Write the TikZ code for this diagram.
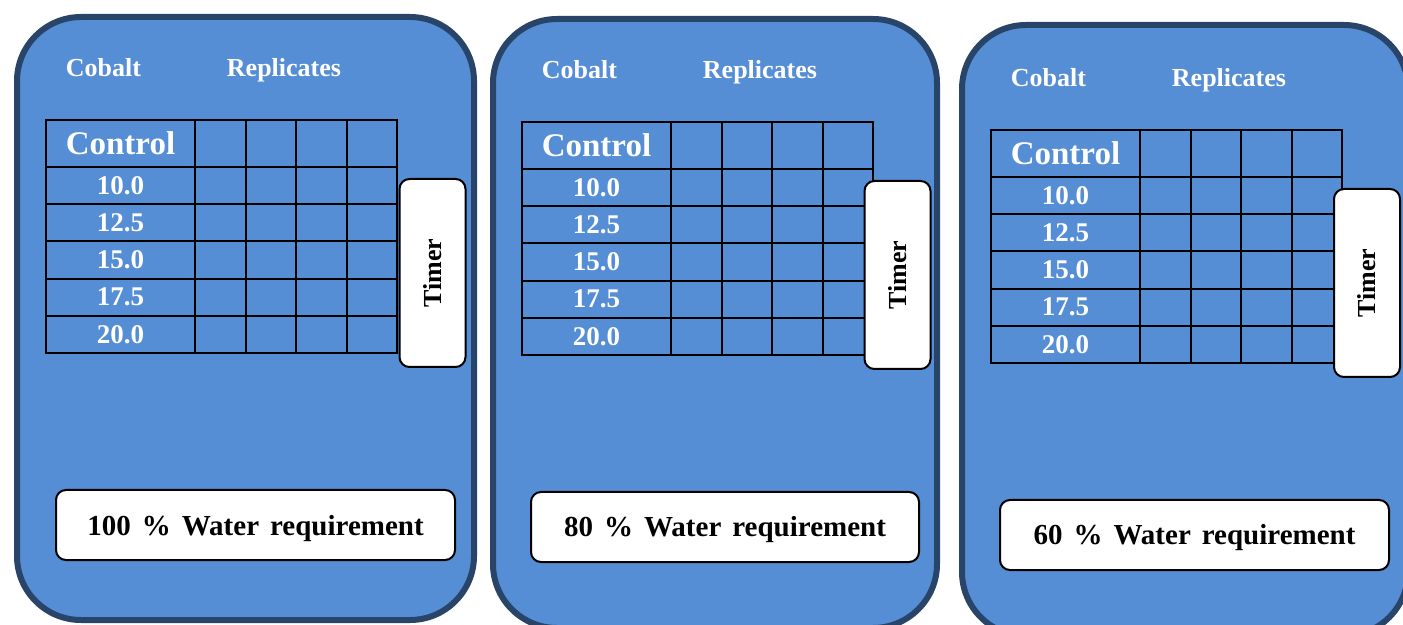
\documentclass[tikz,border=0pt]{standalone}
\usepackage{fontspec}
\setmainfont{Liberation Serif}
\definecolor{panelfill}{RGB}{85,142,213}
\definecolor{panelline}{RGB}{40,68,104}
\newcommand{\wsp}{\hspace{5.5pt}}
\tikzset{
  panel/.style={draw=panelline, fill=panelfill, line width=3pt, rounded corners=32pt},
  grid/.style={draw=black, line width=0.7pt},
  whitebox/.style={draw=black, fill=white, line width=1pt, rounded corners=5pt, inner sep=0pt},
  head/.style={text=white, anchor=base, font=\bfseries\fontsize{13}{15}\selectfont},
  ctrl/.style={text=white, font=\bfseries\fontsize{16.5}{19}\selectfont},
  rowlab/.style={text=white, font=\bfseries\fontsize{13.5}{16}\selectfont},
  timerbox/.style={whitebox, rotate=90, minimum width=94pt, minimum height=33pt,
    font=\bfseries\fontsize{13}{15}\selectfont},
  waterbox/.style={whitebox, minimum height=35pt, text height=10pt, text depth=0pt,
    font=\bfseries\fontsize{14.5}{17}\selectfont}
}
\begin{document}
\begin{tikzpicture}[x=0.5pt,y=-0.5pt]
  \useasboundingbox (0,0) rectangle (1403,625);
  \foreach \i/\dx/\dy/\ya/\xb/\yb/\tx/\wx/\ww/\pct in
    {1/0/0/17/474/620/432.5/255.5/199.5/100,
     2/476/2/17/461/626/421.5/249/194/80,
     3/945/10/15/463/626/422/249.5/194.5/60}{
    \begin{scope}[shift={(\dx,\dy)}]
      \draw[panel] (17,\ya) rectangle (\xb,\yb);
      \node[head] (cobalt\i) at (103.5,77) {Cobalt};
      \node[head] (repl\i) at (284,77) {Replicates};
      % table of doses
      \draw[grid] (46,120) rectangle (397,353);
      \foreach \y in {167,204,241,279,316}
        \draw[grid] (46,\y) -- (397,\y);
      \foreach \x in {195,246,296,347}
        \draw[grid] (\x,120) -- (\x,353);
      \node[ctrl] (control\i) at (120.5,143.5) {Control};
      \foreach \v [count=\k] in {10.0,12.5,15.0,17.5,20.0}
        \node[rowlab] (dose\i-\k) at (120.5,{167+37.2*(\k-0.5)}) {\v};
      \node[timerbox] (timer\i) at (\tx,273) {Timer};
      \node[waterbox, minimum width=\ww pt] (water\i) at (\wx,525)
        {\pct\wsp\%\wsp Water\wsp requirement};
    \end{scope}
  }
\end{tikzpicture}
\end{document}
